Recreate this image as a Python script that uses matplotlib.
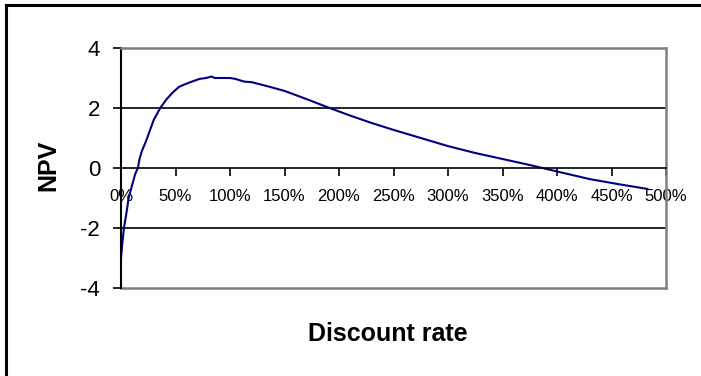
# NPV profile against the discount rate
import matplotlib
matplotlib.use("Agg")
from matplotlib import pyplot as plt
from matplotlib.lines import Line2D
from matplotlib.ticker import FuncFormatter

plt.rcParams['font.family'] = ['Liberation Sans', 'DejaVu Sans']
plt.rcParams['axes.unicode_minus'] = False

# discount rate (%)
rate = [0, 1, 2.7, 5, 7, 10, 13, 15.5, 17, 19, 23, 27, 30, 36, 42, 47, 53, 58,
        65, 72, 78, 83, 86, 100, 105, 113, 120, 135, 150, 170, 190, 210, 230,
        250, 275, 300, 325, 350, 375, 390, 410, 430, 455, 470, 483]
# net present value
npv = [-3.0, -2.6, -2.0, -1.5, -1.0, -0.6, -0.2, 0.0, 0.3, 0.55, 0.9, 1.3, 1.6,
       2.0, 2.3, 2.5, 2.7, 2.78, 2.88, 2.97, 3.0, 3.05, 3.0, 3.0, 2.97, 2.88,
       2.86, 2.72, 2.57, 2.3, 2.02, 1.75, 1.5, 1.27, 1.0, 0.73, 0.5, 0.3, 0.1,
       -0.03, -0.2, -0.37, -0.53, -0.62, -0.7]

x_ticks = list(range(0, 501, 50))
y_ticks = [-4, -2, 0, 2, 4]

W, H = 701, 376
fig = plt.figure(figsize=(W / 100, H / 100), dpi=100)
ax = fig.add_axes([121 / W, 1 - 288 / H, 545 / W, 240 / H])

ax.plot(rate, npv, color='#000080', lw=1.5)

ax.set_xlim(0, 500)
ax.set_ylim(-4, 4)

# horizontal grid lines
for yy in [-2, 2]:
    ax.axhline(yy, color='black', lw=1.2, zorder=1)
ax.axhline(-4, color='#808080', lw=1.8, clip_on=False, zorder=1)

# category axis crosses at zero
ax.spines['bottom'].set_position(('data', 0))
ax.spines['bottom'].set_color('black')
ax.spines['bottom'].set_linewidth(1.2)
ax.spines['left'].set_color('black')
ax.spines['left'].set_linewidth(1.5)
for s in ['top', 'right']:
    ax.spines[s].set_color('#808080')
    ax.spines[s].set_linewidth(1.8)

ax.set_xticks(x_ticks)
ax.xaxis.set_major_formatter(FuncFormatter(lambda v, p: f"{v:.0f}%"))
ax.tick_params(axis='x', direction='out', length=6, width=1.2, pad=9,
               labelsize=12, colors='black')
ax.set_yticks(y_ticks)
ax.tick_params(axis='y', direction='out', length=6, width=1.2, pad=9,
               labelsize=16)

ax.text(0.49, -0.19, 'Discount rate', transform=ax.transAxes, ha='center',
        va='center', fontsize=18, fontweight='bold')
ax.text(-0.134, 0.51, 'NPV', transform=ax.transAxes, ha='center',
        va='center', rotation=90, fontsize=18, fontweight='bold')

# chart frame
fig.add_artist(Line2D([6 / W, 6 / W], [0, 1 - 5 / H], color='black', lw=2.2))
fig.add_artist(Line2D([6 / W, 1], [1 - 5 / H, 1 - 5 / H], color='black', lw=2.2))

fig.savefig('out.png', dpi=100)
